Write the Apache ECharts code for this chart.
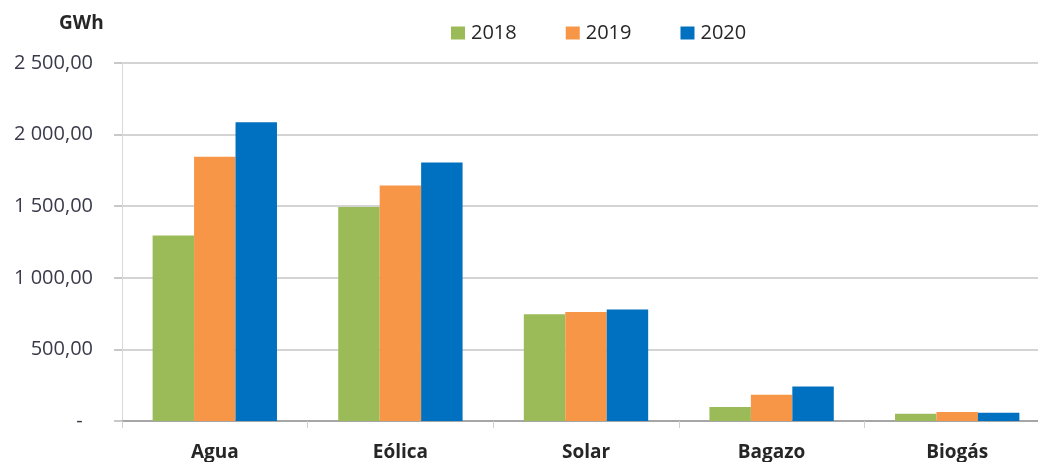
<!DOCTYPE html>
<html>
<head>
<meta charset="utf-8">
<script src="https://cdn.jsdelivr.net/npm/echarts@6/dist/echarts.min.js"></script>
<style>
  html, body { margin: 0; padding: 0; background: #fff; overflow: hidden; }
  /* the canvas is a little wider than the window: the plot runs past the right edge */
  #chart { width: 1050px; height: 462px; }
</style>
</head>
<body>
<div id="chart"></div>
<script>
// Energy generation by renewable source, GWh
const categories = ['Agua', 'Eólica', 'Solar', 'Bagazo', 'Biogás'];
const years = ['2018', '2019', '2020'];
const values2018 = [1295, 1495, 746, 97, 50];
const values2019 = [1845, 1645, 762, 183, 63];
const values2020 = [2087, 1805, 779, 241, 57];
const colors = ['#9BBB59', '#F79646', '#0070C0'];

const FONT = '"Open Sans", "Liberation Sans", sans-serif';

function fmtTick(v) {
  if (v === 0) return '-  ';
  const s = Math.round(v).toString().replace(/\B(?=(\d{3})+(?!\d))/g, ' ');
  return s + ',00';
}

const seriesData = [values2018, values2019, values2020];

const chart = echarts.init(document.getElementById('chart'), null, { renderer: 'canvas' });
chart.setOption({
  animation: false,
  backgroundColor: '#ffffff',
  color: colors,
  title: {
    text: 'GWh',
    left: 54,
    top: 9,
    textStyle: { fontFamily: FONT, fontSize: 19, fontWeight: 'bold', color: '#262626' }
  },
  legend: {
    data: years,
    left: 446,
    top: 18,
    itemWidth: 14,
    itemHeight: 13,
    itemGap: 49,
    icon: 'rect',
    textStyle: { fontFamily: FONT, fontSize: 20, color: '#262626', padding: [0, 0, 0, 1] }
  },
  grid: { left: 122, right: 0, top: 63, bottom: 41 },
  xAxis: {
    type: 'category',
    data: categories,
    axisLine: { lineStyle: { color: '#a6a6a6', width: 2 } },
    axisTick: { show: true, length: 7, lineStyle: { color: '#d0d0d0', width: 1 } },
    axisLabel: { fontFamily: FONT, fontSize: 19, fontWeight: 'bold', color: '#262626', margin: 22 }
  },
  yAxis: {
    type: 'value',
    min: 0,
    max: 2500,
    interval: 500,
    axisLine: { show: true, lineStyle: { color: '#d9d9d9', width: 1 } },
    axisTick: { show: true, inside: false, length: 8, lineStyle: { color: '#c8c8c8', width: 2 } },
    axisLabel: { fontFamily: FONT, fontSize: 20, color: '#3a3a4a', margin: 29, formatter: fmtTick },
    splitLine: { lineStyle: { color: '#d4d4d4', width: 2 } }
  },
  series: years.map((y, i) => ({
    name: y,
    type: 'bar',
    data: seriesData[i],
    barGap: '0%',
    barCategoryGap: '33%',
    itemStyle: { color: colors[i] }
  }))
});
</script>
</body>
</html>
